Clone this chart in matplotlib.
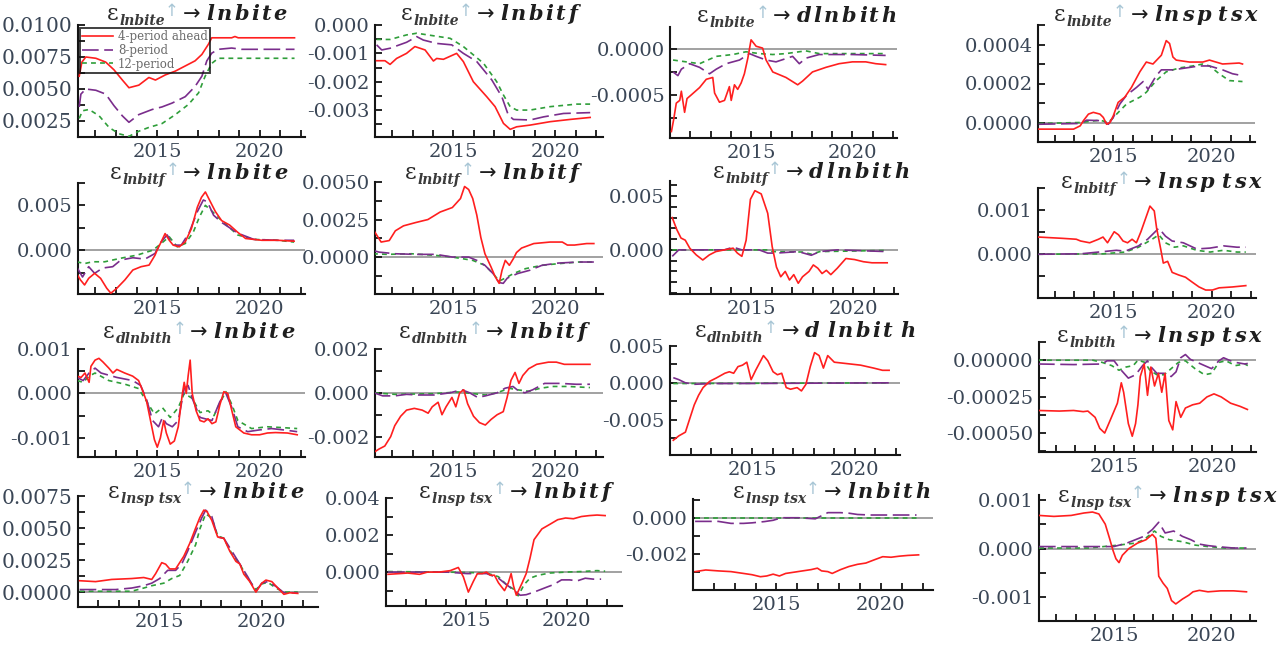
import matplotlib
matplotlib.use('Agg')
import matplotlib.pyplot as plt
from matplotlib.ticker import MultipleLocator, FuncFormatter
from matplotlib.transforms import IdentityTransform
from matplotlib.lines import Line2D

W, H, DPI = 1287, 648, 100
plt.rcParams['axes.unicode_minus'] = False
plt.rcParams['lines.scale_dashes'] = False
plt.rcParams['font.family'] = ['DejaVu Serif', 'DejaVu Sans']

# ---------------- data: (year, response) ----------------
# row 1: shock lnbite
p00_red = [(2011.21,0.0060),(2011.34,0.0071),(2011.53,0.0075),(2012.02,0.0074),(2012.5,0.0071),(2012.9,0.0065),(2013.31,0.0057),(2013.63,0.0051),(2014.11,0.0053),(2014.6,0.0059),(2014.92,0.0057),(2015.4,0.0061),(2015.89,0.0064),(2016.37,0.0068),(2016.85,0.0072),(2017.18,0.0077),(2017.5,0.0085),(2017.66,0.0090),(2018.63,0.0090),(2018.79,0.0091),(2018.95,0.0090),(2021.69,0.0090)]
p00_pur = [(2011.21,0.0036),(2011.29,0.0046),(2011.53,0.0050),(2012.02,0.0049),(2012.5,0.0046),(2012.9,0.0037),(2013.31,0.0029),(2013.63,0.0024),(2014.11,0.0030),(2014.76,0.0034),(2015.24,0.0036),(2015.73,0.0039),(2016.37,0.0044),(2016.85,0.0052),(2017.18,0.0060),(2017.42,0.0072),(2017.66,0.0078),(2017.98,0.0081),(2018.63,0.0082),(2019.11,0.0081),(2021.69,0.0081)]
p00_grn = [(2011.21,0.0027),(2011.37,0.0033),(2011.69,0.0034),(2012.18,0.0029),(2012.66,0.0020),(2013.15,0.0015),(2013.63,0.0013),(2014.11,0.0017),(2014.6,0.0020),(2015.24,0.0023),(2015.89,0.0030),(2016.53,0.0038),(2017.02,0.0047),(2017.34,0.0060),(2017.66,0.0070),(2017.98,0.0074),(2021.69,0.0074)]

p01_red = [(2011.23,-0.00126),(2011.64,-0.00126),(2011.89,-0.00139),(2012.21,-0.00118),(2012.7,-0.00100),(2013.11,-0.00076),(2013.61,-0.00088),(2014.02,-0.00127),(2014.18,-0.00118),(2014.51,-0.00121),(2015.16,-0.00100),(2015.49,-0.00129),(2015.98,-0.00200),(2016.64,-0.00253),(2017.05,-0.00288),(2017.46,-0.00347),(2017.79,-0.00368),(2018.11,-0.00359),(2018.77,-0.00353),(2019.75,-0.00341),(2020.74,-0.00333),(2021.72,-0.00326)]
p01_pur = [(2011.23,-0.0007),(2011.48,-0.00088),(2011.89,-0.00082),(2012.7,-0.00061),(2013.2,-0.00041),(2013.52,-0.00053),(2014.18,-0.00065),(2014.92,-0.0007),(2015.49,-0.0010),(2016.15,-0.00129),(2016.89,-0.00194),(2017.38,-0.00253),(2017.7,-0.00318),(2017.95,-0.00333),(2018.77,-0.00335),(2019.43,-0.00324),(2020.41,-0.00312),(2021.72,-0.00309)]
p01_grn = [(2011.23,-0.00051),(2011.89,-0.00051),(2012.7,-0.00035),(2013.2,-0.00029),(2014.84,-0.00047),(2015.49,-0.00076),(2016.48,-0.00135),(2017.13,-0.0020),(2017.46,-0.00247),(2017.79,-0.00288),(2018.11,-0.0030),(2018.77,-0.0030),(2019.75,-0.00288),(2021.07,-0.00279),(2021.72,-0.00279)]

p02_red = [(2011.07,-0.00090),(2011.18,-0.00077),(2011.31,-0.00059),(2011.48,-0.00056),(2011.56,-0.00046),(2011.72,-0.00069),(2011.84,-0.00054),(2012.05,-0.00050),(2012.46,-0.00042),(2012.79,-0.00033),(2013.11,-0.00031),(2013.2,-0.00048),(2013.44,-0.00058),(2013.69,-0.00056),(2013.93,-0.00041),(2014.02,-0.00056),(2014.18,-0.00039),(2014.34,-0.00044),(2014.51,-0.00037),(2014.67,-0.00027),(2014.84,-0.00010),(2015.0,0.00010),(2015.25,0.00003),(2015.57,0.00001),(2015.74,-0.00012),(2016.07,-0.00025),(2016.72,-0.00031),(2017.3,-0.00039),(2017.54,-0.00035),(2018.03,-0.00025),(2018.69,-0.00020),(2019.34,-0.00016),(2020.0,-0.00014),(2020.66,-0.00014),(2021.15,-0.00016),(2021.64,-0.00017)]
p02_pur = [(2011.15,-0.00025),(2011.39,-0.00029),(2011.56,-0.00022),(2011.97,-0.00016),(2012.46,-0.00020),(2012.95,-0.00027),(2013.28,-0.00022),(2013.77,-0.00016),(2014.43,-0.00012),(2014.92,-0.00005),(2015.25,-0.00008),(2015.74,-0.00012),(2016.23,-0.00014),(2017.05,-0.00008),(2017.38,-0.00016),(2017.7,-0.00010),(2018.36,-0.00006),(2020.0,-0.00006),(2021.64,-0.00007)]
p02_grn = [(2011.15,-0.00012),(2011.8,-0.00014),(2012.46,-0.00016),(2013.28,-0.00008),(2014.1,-0.00006),(2014.75,-0.00003),(2015.41,-0.00005),(2016.07,-0.00006),(2016.72,-0.00005),(2017.7,-0.00002),(2018.36,-0.00005),(2021.64,-0.00005)]

p03_red = [(2011.19,-0.000034),(2012.97,-0.000034),(2013.31,-0.000017),(2013.47,0.000009),(2013.73,0.000043),(2013.98,0.000052),(2014.32,0.000043),(2014.49,0.000026),(2014.66,-0.000009),(2014.83,0.0),(2015.0,0.000034),(2015.25,0.000103),(2015.59,0.00013),(2015.93,0.00018),(2016.36,0.00026),(2016.69,0.00031),(2017.03,0.00030),(2017.46,0.000345),(2017.71,0.00042),(2017.88,0.000405),(2018.05,0.000336),(2018.22,0.00032),(2018.9,0.00031),(2019.58,0.00031),(2019.92,0.00032),(2020.59,0.00030),(2021.44,0.000305),(2021.61,0.00030)]
p03_pur = [(2011.19,-0.000009),(2013.31,-0.000005),(2013.64,0.000012),(2014.49,0.000009),(2014.75,-0.000009),(2015.0,0.000026),(2015.34,0.000095),(2015.68,0.00014),(2016.19,0.00018),(2016.53,0.00021),(2016.78,0.00017),(2017.2,0.00024),(2017.46,0.00027),(2018.05,0.00027),(2018.73,0.00028),(2019.41,0.00029),(2019.92,0.00029),(2020.59,0.00027),(2021.1,0.00025),(2021.61,0.00024)]
p03_grn = [(2011.19,-0.000005),(2013.31,0.0),(2014.32,0.000012),(2014.75,0.0),(2015.17,0.000043),(2015.68,0.000095),(2016.36,0.00013),(2016.69,0.000155),(2017.2,0.000215),(2017.71,0.00026),(2018.39,0.00028),(2019.07,0.00029),(2019.58,0.00030),(2019.92,0.00029),(2020.42,0.00025),(2020.93,0.000215),(2021.61,0.00021)]

# row 2: shock lnbitf
p10_red = [(2011.08,-0.00259),(2011.27,-0.00333),(2011.47,-0.00389),(2011.67,-0.00315),(2011.96,-0.00259),(2012.25,-0.00315),(2012.55,-0.00426),(2012.75,-0.00481),(2013.04,-0.00426),(2013.43,-0.00333),(2013.82,-0.00222),(2014.22,-0.00185),(2014.61,-0.00167),(2014.9,-0.00056),(2015.0,0.0),(2015.2,0.00093),(2015.39,0.00185),(2015.59,0.00111),(2015.78,0.00056),(2016.08,0.00037),(2016.37,0.00093),(2016.67,0.0024),(2016.96,0.0048),(2017.16,0.0059),(2017.35,0.0065),(2017.55,0.0056),(2017.84,0.0043),(2018.14,0.0033),(2018.53,0.0028),(2018.92,0.0020),(2019.31,0.0013),(2020.1,0.0011),(2020.88,0.0011),(2021.67,0.0010)]
p10_pur = [(2011.08,-0.00185),(2011.37,-0.0030),(2011.67,-0.00185),(2011.96,-0.00259),(2012.35,-0.0020),(2012.84,-0.00185),(2013.24,-0.0011),(2013.82,-0.00085),(2014.41,-0.0010),(2014.9,-0.00037),(2015.2,0.00093),(2015.49,0.0017),(2015.78,0.00056),(2016.18,0.00056),(2016.57,0.0020),(2016.96,0.0043),(2017.25,0.0056),(2017.45,0.0054),(2017.75,0.0039),(2018.14,0.0031),(2018.92,0.0019),(2019.71,0.0012),(2020.88,0.0011),(2021.67,0.0011)]
p10_grn = [(2011.08,-0.0013),(2011.47,-0.0015),(2011.86,-0.0013),(2012.45,-0.0013),(2013.24,-0.0009),(2014.02,-0.00056),(2014.8,0.0),(2015.2,0.00074),(2015.59,0.0015),(2015.98,0.00037),(2016.37,0.00074),(2016.76,0.0020),(2017.06,0.0037),(2017.35,0.0050),(2017.65,0.0044),(2018.14,0.0033),(2018.92,0.0017),(2019.71,0.0012),(2020.88,0.0011),(2021.67,0.0009)]

p11_red = [(2011.05,0.00186),(2011.25,0.00143),(2011.45,0.0010),(2011.85,0.00110),(2012.15,0.00175),(2012.55,0.00208),(2013.15,0.0023),(2013.75,0.0025),(2014.35,0.0030),(2014.95,0.0033),(2015.35,0.0039),(2015.55,0.0047),(2015.75,0.0045),(2015.95,0.0039),(2016.15,0.0028),(2016.35,0.0013),(2016.55,0.00022),(2016.85,-0.00066),(2017.05,-0.0013),(2017.25,-0.00175),(2017.39,-0.00088),(2017.55,-0.00022),(2017.75,-0.00055),(2017.95,-0.0001),(2018.1,0.0003),(2018.35,0.0006),(2018.95,0.0009),(2019.75,0.0010),(2020.35,0.0010),(2020.6,0.0008),(2020.95,0.0008),(2021.55,0.0009),(2021.9,0.0009)]
p11_pur = [(2011.05,0.00044),(2011.35,0.00033),(2012.15,0.00022),(2013.15,0.00018),(2014.15,0.00018),(2014.95,0.0),(2015.75,0.0),(2016.15,-0.00022),(2016.55,-0.00055),(2016.95,-0.0011),(2017.25,-0.0017),(2017.45,-0.00175),(2017.65,-0.0014),(2018.15,-0.0011),(2018.75,-0.00088),(2019.35,-0.00055),(2020.15,-0.0004),(2021.15,-0.00033),(2021.9,-0.00033)]
p11_grn = [(2011.05,0.00022),(2011.75,0.00018),(2012.95,0.00022),(2014.15,0.00011),(2014.95,0.0),(2015.95,-0.00022),(2016.55,-0.00055),(2016.95,-0.0011),(2017.25,-0.0016),(2017.55,-0.0014),(2017.95,-0.0011),(2018.55,-0.00077),(2019.35,-0.00055),(2020.15,-0.00044),(2021.15,-0.00033),(2021.9,-0.00033)]

p12_red = [(2011.11,0.0030),(2011.33,0.0019),(2011.54,0.0011),(2011.75,0.0009),(2011.97,0.00016),(2012.29,-0.00047),(2012.61,-0.00094),(2012.93,-0.00047),(2013.25,-0.00016),(2013.67,0.0),(2014.1,0.00016),(2014.31,-0.0003),(2014.53,-0.0006),(2014.74,0.0009),(2014.95,0.0047),(2015.17,0.0055),(2015.48,0.0052),(2015.8,0.0034),(2016.02,0.0003),(2016.23,-0.0016),(2016.44,-0.0025),(2016.66,-0.0020),(2016.87,-0.0028),(2017.08,-0.0023),(2017.3,-0.0031),(2017.51,-0.0025),(2017.83,-0.0020),(2018.04,-0.0014),(2018.26,-0.0017),(2018.47,-0.0022),(2018.68,-0.0019),(2018.9,-0.0023),(2019.22,-0.0017),(2019.64,-0.0008),(2020.07,-0.0009),(2020.5,-0.0011),(2020.92,-0.0012),(2021.67,-0.0012)]
p12_pur = [(2011.11,-0.0006),(2011.43,0.0),(2013.67,0.0),(2014.1,0.00025),(2014.53,0.0),(2015.38,0.0),(2015.8,-0.0003),(2016.23,-0.0003),(2017.3,-0.00016),(2017.94,-0.0005),(2018.36,-0.00016),(2019.22,0.0),(2021.67,-0.00016)]
p12_grn = [(2011.11,0.0),(2015.8,0.0),(2016.0,-0.00016),(2017.5,-0.0002),(2017.94,-0.0004),(2018.36,-0.00016),(2021.67,-0.00005)]

p13_red = [(2011.16,0.00039),(2012.41,0.00036),(2013.1,0.00034),(2013.32,0.0003),(2013.78,0.00026),(2014.23,0.00034),(2014.46,0.00039),(2014.69,0.00026),(2015.03,0.00051),(2015.25,0.00044),(2015.48,0.0003),(2015.71,0.00026),(2015.94,0.00034),(2016.16,0.00026),(2016.39,0.00051),(2016.62,0.0008),(2016.85,0.00109),(2017.07,0.00098),(2017.19,0.00059),(2017.41,0.00009),(2017.53,-0.0002),(2017.75,-0.00016),(2017.98,-0.00041),(2018.32,-0.00047),(2018.66,-0.00052),(2019.0,-0.00063),(2019.35,-0.00074),(2019.69,-0.00081),(2020.03,-0.00081),(2020.37,-0.00076),(2021.05,-0.00074),(2021.73,-0.00071)]
p13_pur = [(2011.16,0.0),(2013.32,0.00001),(2014.23,0.00005),(2015.14,0.00009),(2015.59,0.00007),(2016.27,0.00019),(2016.73,0.00034),(2017.3,0.00059),(2017.64,0.00041),(2017.98,0.0003),(2018.55,0.00026),(2019.23,0.00012),(2019.91,0.00014),(2020.6,0.00019),(2021.28,0.00016),(2021.73,0.00016)]
p13_grn = [(2011.16,0.0),(2014.46,0.00001),(2015.59,0.00005),(2016.27,0.00016),(2016.96,0.00034),(2017.3,0.00044),(2017.64,0.00026),(2018.1,0.00016),(2018.55,0.00019),(2019.23,0.00009),(2019.91,0.00005),(2020.6,0.00009),(2021.28,0.00005),(2021.73,0.00005)]

# row 3: shock dlnbith (last panel: lnbith)
p20_red = [(2011.11,0.00039),(2011.3,0.00036),(2011.49,0.00046),(2011.69,0.00025),(2011.78,0.00061),(2011.98,0.00075),(2012.17,0.00079),(2012.36,0.00071),(2012.65,0.00057),(2012.85,0.00046),(2013.04,0.00054),(2013.42,0.00046),(2013.81,0.00039),(2014.1,0.00029),(2014.29,0.00007),(2014.49,-0.00018),(2014.68,-0.00061),(2014.87,-0.00104),(2015.01,-0.00121),(2015.16,-0.00100),(2015.32,-0.00061),(2015.45,-0.00089),(2015.64,-0.00114),(2015.84,-0.00107),(2016.03,-0.00075),(2016.22,-0.00004),(2016.32,0.00025),(2016.42,0.0),(2016.51,0.00039),(2016.61,0.00075),(2016.71,0.0),(2016.9,-0.00039),(2017.09,-0.00061),(2017.29,-0.00064),(2017.48,-0.00057),(2017.67,-0.00068),(2017.86,-0.00064),(2018.06,-0.00025),(2018.25,0.00004),(2018.44,0.0),(2018.64,-0.00039),(2018.83,-0.00075),(2019.22,-0.00089),(2019.6,-0.00093),(2019.99,-0.00093),(2020.37,-0.00089),(2020.76,-0.00088),(2021.34,-0.00089),(2021.82,-0.00093)]
p20_pur = [(2011.11,0.00036),(2011.4,0.00029),(2011.69,0.00046),(2011.98,0.00057),(2012.27,0.00046),(2013.04,0.00036),(2013.81,0.00029),(2014.2,0.00018),(2014.49,-0.00014),(2014.78,-0.00061),(2015.07,-0.00075),(2015.26,-0.00054),(2015.45,-0.00068),(2015.74,-0.00075),(2016.03,-0.00061),(2016.32,0.00011),(2016.51,0.00018),(2016.71,-0.00011),(2017.09,-0.00054),(2017.67,-0.00061),(2018.06,-0.00018),(2018.35,0.0),(2018.64,-0.00032),(2018.93,-0.00075),(2019.41,-0.00086),(2019.99,-0.00082),(2020.57,-0.00079),(2021.15,-0.00082),(2021.82,-0.00086)]
p20_grn = [(2011.11,0.00029),(2011.4,0.00025),(2011.69,0.00039),(2011.98,0.00046),(2012.65,0.00029),(2013.42,0.00021),(2014.1,0.00011),(2014.49,-0.00018),(2014.87,-0.00046),(2015.26,-0.00032),(2015.64,-0.00054),(2016.03,-0.00032),(2016.32,0.0),(2016.71,-0.00011),(2017.09,-0.00043),(2017.48,-0.00039),(2017.77,-0.0005),(2018.06,-0.00021),(2018.35,0.00004),(2018.64,-0.00025),(2018.93,-0.00061),(2019.6,-0.00079),(2020.37,-0.00075),(2021.15,-0.00077),(2021.82,-0.00079)]

p21_red = [(2011.11,-0.00271),(2011.34,-0.00257),(2011.63,-0.00243),(2011.92,-0.0020),(2012.12,-0.0015),(2012.41,-0.00107),(2012.7,-0.00079),(2013.08,-0.00071),(2013.47,-0.00079),(2013.76,-0.00093),(2013.96,-0.00064),(2014.25,-0.00043),(2014.44,-0.0010),(2014.64,-0.00064),(2014.93,-0.00021),(2015.12,-0.00064),(2015.31,0.0),(2015.51,0.00014),(2015.7,-0.0005),(2015.99,-0.00107),(2016.28,-0.00136),(2016.57,-0.00147),(2016.86,-0.00121),(2017.15,-0.0010),(2017.45,-0.00086),(2017.64,-0.00021),(2017.83,0.00057),(2018.03,0.00093),(2018.22,0.00043),(2018.41,0.00079),(2018.7,0.0011),(2019.09,0.0013),(2019.67,0.0014),(2020.06,0.0014),(2020.45,0.0013),(2021.22,0.0013),(2021.71,0.0013)]
p21_pur = [(2011.11,0.0),(2011.53,-0.00014),(2012.12,-0.00014),(2012.7,-0.00007),(2013.28,-0.0001),(2014.05,-0.0001),(2014.83,0.0),(2015.41,0.00014),(2015.8,0.0),(2016.19,-0.00021),(2016.57,-0.00014),(2017.15,0.0),(2017.54,0.00021),(2017.93,0.00029),(2018.22,0.00007),(2018.51,0.0),(2018.9,0.00014),(2019.48,0.00043),(2020.26,0.00043),(2021.03,0.00039),(2021.71,0.00039)]
p21_grn = [(2011.11,0.0),(2012.12,-0.00007),(2014.05,-0.00004),(2015.22,0.00004),(2016.0,-0.00004),(2016.57,-0.0001),(2017.15,0.0),(2017.74,0.00021),(2018.12,0.00014),(2018.7,0.00007),(2019.29,0.00021),(2019.87,0.00029),(2020.64,0.00029),(2021.71,0.00024)]

p22_red = [(2011.16,-0.0078),(2011.43,-0.0072),(2011.75,-0.0067),(2011.97,-0.0048),(2012.18,-0.0030),(2012.39,-0.0017),(2012.61,-0.00065),(2012.93,0.0002),(2013.25,0.00065),(2013.67,0.0013),(2013.89,0.0015),(2014.1,0.0013),(2014.31,0.0022),(2014.53,0.0024),(2014.74,0.0028),(2014.95,0.00043),(2015.17,0.0017),(2015.38,0.0028),(2015.55,0.0037),(2015.76,0.0030),(2016.02,0.0015),(2016.23,0.0011),(2016.44,0.0013),(2016.66,-0.00065),(2016.87,-0.00087),(2017.19,-0.00065),(2017.4,-0.0011),(2017.62,-0.0002),(2017.83,0.0022),(2018.04,0.0041),(2018.26,0.0037),(2018.47,0.0020),(2018.68,0.0037),(2019.0,0.0028),(2019.64,0.0026),(2020.28,0.0024),(2020.92,0.0020),(2021.35,0.0017),(2021.67,0.0017)]
p22_pur = [(2011.16,0.0007),(2011.43,0.00043),(2011.75,0.0),(2012.18,-0.0002),(2013.0,-0.0001),(2014.1,-0.0001),(2021.67,0.0)]
p22_grn = [(2011.16,-0.0001),(2021.67,0.0)]

p23_red = [(2011.1,-0.000345),(2012.19,-0.000349),(2012.92,-0.000345),(2013.41,-0.000353),(2013.65,-0.000349),(2014.02,-0.000392),(2014.26,-0.000468),(2014.51,-0.0005),(2014.75,-0.000425),(2014.99,-0.000349),(2015.16,-0.000295),(2015.36,-0.000155),(2015.48,-0.00022),(2015.72,-0.000435),(2015.92,-0.000522),(2016.09,-0.000435),(2016.21,-0.000306),(2016.33,-0.000112),(2016.53,-0.000026),(2016.7,-0.000241),(2016.87,-0.000047),(2017.06,-0.000177),(2017.26,-0.00009),(2017.43,-0.00022),(2017.6,-0.00009),(2017.79,-0.000414),(2017.99,-0.000478),(2018.16,-0.000284),(2018.4,-0.000392),(2018.64,-0.000328),(2019.01,-0.000306),(2019.37,-0.000295),(2019.74,-0.000252),(2020.1,-0.000231),(2020.47,-0.000252),(2020.95,-0.000295),(2021.44,-0.000317),(2021.81,-0.000338)]
p23_pur = [(2011.1,-0.000026),(2012.92,-0.00003),(2014.38,-0.000026),(2014.63,-0.000004),(2014.99,-0.000004),(2015.36,-0.000069),(2015.72,-0.000123),(2016.09,-0.0001),(2016.45,-0.000037),(2016.7,-0.000004),(2016.82,-0.000037),(2017.18,-0.00009),(2017.55,-0.00009),(2017.91,-0.000112),(2018.16,-0.00008),(2018.4,0.000017),(2018.64,0.000039),(2018.89,0.000006),(2019.25,-0.000015),(2019.62,-0.000037),(2019.98,-0.000058),(2020.35,-0.000004),(2020.59,0.000017),(2020.95,-0.000004),(2021.2,-0.000015),(2021.68,-0.000026),(2021.83,-0.000022)]
p23_grn = [(2011.1,0.0),(2013.9,0.0),(2014.38,-0.000015),(2014.87,-0.000037),(2015.24,-0.000069),(2015.6,-0.000047),(2015.97,-0.000037),(2016.21,0.0),(2016.57,-0.000015),(2016.82,-0.000069),(2017.18,-0.0001),(2017.55,-0.0001),(2017.91,-0.000058),(2018.28,-0.000015),(2018.64,-0.000004),(2019.13,-0.000058),(2019.62,-0.0001),(2019.98,-0.00009),(2020.35,-0.000015),(2020.71,-0.000004),(2021.2,-0.000037),(2021.68,-0.000026),(2021.83,-0.000037)]

# row 4: shock lnsptsx
p30_red = [(2011.08,0.00089),(2011.86,0.00082),(2012.65,0.00099),(2013.63,0.00106),(2014.22,0.00114),(2014.61,0.00099),(2014.8,0.00144),(2015.1,0.0023),(2015.29,0.00218),(2015.49,0.00181),(2015.78,0.00181),(2016.18,0.0028),(2016.47,0.0038),(2016.76,0.0050),(2016.96,0.0058),(2017.16,0.0064),(2017.31,0.0063),(2017.55,0.0056),(2017.84,0.0043),(2018.14,0.0042),(2018.43,0.0032),(2018.73,0.0024),(2018.92,0.0022),(2019.12,0.0014),(2019.41,0.00082),(2019.71,0.0),(2020.0,0.0007),(2020.2,0.00094),(2020.49,0.00082),(2020.78,0.00032),(2021.08,-0.00017),(2021.37,-0.00005),(2021.76,-0.0001)]
p30_pur = [(2011.08,0.0002),(2012.84,0.0002),(2013.63,0.00032),(2014.22,0.0005),(2014.61,0.0007),(2015.0,0.00106),(2015.39,0.0017),(2015.78,0.0017),(2016.08,0.0022),(2016.37,0.0032),(2016.76,0.0047),(2017.06,0.0058),(2017.25,0.0064),(2017.55,0.0059),(2017.84,0.0043),(2018.14,0.0042),(2018.53,0.0032),(2018.92,0.0022),(2019.31,0.0012),(2019.71,0.00007),(2020.0,0.0007),(2020.29,0.00082),(2020.69,0.00045),(2021.08,-0.00005),(2021.76,-0.00005)]
p30_grn = [(2011.08,0.00007),(2013.63,0.00007),(2014.22,0.00032),(2014.61,0.0005),(2015.2,0.0007),(2015.59,0.00106),(2015.98,0.0013),(2016.37,0.0024),(2016.76,0.0037),(2016.96,0.0049),(2017.25,0.0061),(2017.55,0.0058),(2017.84,0.0044),(2018.14,0.0042),(2018.53,0.0030),(2018.92,0.0022),(2019.31,0.00106),(2019.71,0.0002),(2020.0,0.00064),(2020.29,0.00077),(2020.69,0.00032),(2021.08,0.0),(2021.76,0.0)]

p31_red = [(2011.1,-0.00012),(2011.69,-0.00008),(2012.08,-0.00005),(2012.67,-0.00012),(2013.06,0.0),(2013.65,0.0),(2014.2,0.00008),(2014.6,0.00025),(2014.85,-0.00025),(2015.1,-0.00108),(2015.35,-0.0005),(2015.55,-0.00008),(2015.8,-0.00008),(2016.0,0.0),(2016.2,-0.00017),(2016.4,-0.00017),(2016.6,-0.00058),(2016.9,-0.0010),(2017.09,-0.00058),(2017.23,-0.00008),(2017.35,-0.00075),(2017.49,-0.00125),(2017.78,-0.00058),(2017.98,-0.00008),(2018.17,0.00075),(2018.37,0.00175),(2018.76,0.00233),(2019.16,0.00258),(2019.55,0.00283),(2019.94,0.00292),(2020.33,0.00288),(2020.73,0.0030),(2021.12,0.00305),(2021.51,0.00308),(2021.91,0.00305)]
p31_pur = [(2011.1,0.0),(2014.05,0.0),(2015.03,-0.00008),(2016.01,-0.00008),(2016.6,-0.00033),(2016.99,-0.00067),(2017.39,-0.0010),(2017.68,-0.00125),(2017.98,-0.00122),(2018.37,-0.00108),(2018.96,-0.00083),(2019.35,-0.00067),(2019.74,-0.00042),(2020.14,-0.00042),(2020.53,-0.00047),(2020.92,-0.00033),(2021.32,-0.00038),(2021.71,-0.00038)]
p31_grn = [(2011.1,0.00003),(2014.05,0.0),(2016.01,-0.00005),(2016.6,-0.00025),(2016.99,-0.00067),(2017.35,-0.00092),(2017.58,-0.00128),(2017.88,-0.00067),(2018.17,-0.00033),(2018.57,-0.00017),(2019.16,-0.00005),(2019.94,0.0),(2020.73,0.00003),(2021.51,0.00008),(2021.91,0.00005)]

p32_red = [(2011.1,-0.00296),(2011.61,-0.00287),(2012.21,-0.00292),(2012.82,-0.00296),(2013.42,-0.00306),(2013.83,-0.00313),(2014.23,-0.00324),(2014.53,-0.0032),(2014.84,-0.0031),(2015.14,-0.0032),(2015.44,-0.00306),(2015.85,-0.00299),(2016.25,-0.00292),(2016.66,-0.00285),(2016.96,-0.00277),(2017.16,-0.00292),(2017.46,-0.00296),(2017.67,-0.00306),(2018.07,-0.00285),(2018.47,-0.00268),(2018.88,-0.00256),(2019.28,-0.00249),(2019.69,-0.00231),(2020.09,-0.00214),(2020.49,-0.00217),(2020.9,-0.00211),(2021.3,-0.00207),(2021.81,-0.00204)]
p32_pur = [(2011.1,-0.0002),(2012.21,-0.0002),(2012.82,-0.00031),(2013.42,-0.00031),(2013.83,-0.00028),(2014.43,-0.00021),(2014.84,-0.00014),(2015.24,0.0),(2016.05,0.0),(2016.86,-0.00006),(2017.16,0.00011),(2017.46,0.00028),(2018.07,0.00028),(2018.47,0.00025),(2018.88,0.00018),(2019.48,0.00015),(2021.71,0.00015)]
p32_grn = [(2011.1,0.0),(2021.81,0.0)]

p33_red = [(2011.1,0.00068),(2011.87,0.00066),(2012.76,0.00068),(2013.42,0.00073),(2013.86,0.00075),(2014.19,0.00071),(2014.52,0.0005),(2014.74,0.00021),(2014.92,-0.00004),(2015.07,-0.00021),(2015.23,-0.00029),(2015.4,-0.00014),(2015.74,0.0),(2016.18,0.00011),(2016.62,0.00018),(2016.95,0.00029),(2017.13,0.00021),(2017.21,-0.00014),(2017.28,-0.00057),(2017.5,-0.00071),(2017.72,-0.00082),(2017.94,-0.00107),(2018.16,-0.00114),(2018.5,-0.00104),(2018.83,-0.00096),(2019.05,-0.00089),(2019.38,-0.00086),(2019.82,-0.00089),(2020.48,-0.00087),(2021.14,-0.00087),(2021.81,-0.00089)]
p33_pur = [(2011.1,0.00004),(2013.64,0.00004),(2014.96,0.00004),(2015.63,0.00011),(2016.07,0.00018),(2016.51,0.00025),(2016.95,0.00039),(2017.28,0.00054),(2017.61,0.00032),(2018.05,0.00036),(2018.5,0.00025),(2018.94,0.00018),(2019.38,0.00009),(2019.82,0.00006),(2020.26,0.00004),(2021.14,0.00001),(2021.81,0.00001)]
p33_grn = [(2011.1,0.00001),(2013.64,0.00001),(2014.96,0.00006),(2015.63,0.00009),(2016.07,0.00011),(2016.51,0.00018),(2017.06,0.00036),(2017.39,0.00025),(2017.83,0.00018),(2018.5,0.00014),(2019.16,0.00007),(2019.82,0.00004),(2020.7,0.00001),(2021.81,0.00001)]

legend_labels = ['4-period ahead', '8-period', '12-period']

# ---------------- styles ----------------
RED, PUR, GRN = '#ff1f1f', '#7a2d8c', '#2f9e3a'
TICKC, LABC = '#151515', '#3a4656'

fig = plt.figure(figsize=(W / DPI, H / DPI), dpi=DPI)
fig.patch.set_facecolor('white')

# panel: series, (left, top, right, bottom) px, xlim, ylim, major, minor, decimals,
#        zero line, (shock, response), title centre px, tick label size
panels = [
    ((p00_red, p00_pur, p00_grn), (78, 25, 305, 137), (2011.15, 2022.2), (0.00125, 0.0100), 0.0025, 0.00125, 4, False, ('lnbite', 'lnbite'), (198, 13), 14.5),
    ((p01_red, p01_pur, p01_grn), (375, 25, 603, 137), (2011.15, 2022.35), (-0.00395, 0.0), 0.001, 0.0005, 3, False, ('lnbite', 'lnbitf'), (490, 13), 14),
    ((p02_red, p02_pur, p02_grn), (670, 27, 897, 138), (2011.0, 2022.2), (-0.00097, 0.00024), 0.0005, 0.00025, 4, True, ('lnbite', 'dlnbith'), (798, 15), 14),
    ((p03_red, p03_pur, p03_grn), (1038, 25, 1255, 142), (2011.15, 2022.25), (-0.0001, 0.0005), 0.0002, 0.0001, 4, True, ('lnbite', 'lnsp tsx'), (1157, 14), 14),
    ((p10_red, p10_pur, p10_grn), (78, 183, 305, 294), (2011.15, 2022.2), (-0.0049, 0.0075), 0.005, 0.0025, 3, True, ('lnbitf', 'lnbite'), (200, 172), 14),
    ((p11_red, p11_pur, p11_grn), (375, 182, 603, 294), (2011.15, 2022.35), (-0.00246, 0.0050), 0.0025, 0.00125, 4, True, ('lnbitf', 'lnbitf'), (493, 172), 14),
    ((p12_red, p12_pur, p12_grn), (670, 181, 898, 294), (2011.0, 2022.2), (-0.0041, 0.0064), 0.005, 0.001, 3, True, ('lnbitf', 'dlnbith'), (812, 171), 14),
    ((p13_red, p13_pur, p13_grn), (1038, 188, 1256, 298), (2011.15, 2022.25), (-0.00099, 0.0015), 0.001, 0.0005, 3, True, ('lnbitf', 'lnsp tsx'), (1162, 181), 14),
    ((p20_red, p20_pur, p20_grn), (78, 349, 305, 457), (2011.15, 2022.2), (-0.00143, 0.001), 0.001, 0.0005, 3, True, ('dlnbith', 'lnbite'), (200, 331), 14),
    ((p21_red, p21_pur, p21_grn), (375, 349, 603, 457), (2011.15, 2022.35), (-0.00293, 0.002), 0.002, 0.001, 3, True, ('dlnbith', 'lnbitf'), (494, 331), 14),
    ((p22_red, p22_pur, p22_grn), (670, 346, 900, 455), (2011.0, 2022.2), (-0.0098, 0.005), 0.005, 0.0025, 3, True, ('dlnbith', 'd lnbit h'), (806, 330), 14),
    ((p23_red, p23_pur, p23_grn), (1039, 342, 1256, 452), (2011.15, 2022.25), (-0.00063, 0.000125), 0.00025, 0.000125, 5, True, ('lnbith', 'lnsp tsx'), (1160, 335), 14),
    ((p30_red, p30_pur, p30_grn), (78, 496, 318, 607), (2011.0, 2022.75), (-0.00116, 0.0075), 0.0025, 0.00125, 4, True, ('lnsp tsx', 'lnbite'), (207, 491), 14.5),
    ((p31_red, p31_pur, p31_grn), (386, 498, 622, 606), (2011.0, 2022.75), (-0.00183, 0.004), 0.002, 0.001, 3, True, ('lnsp tsx', 'lnbitf'), (516, 491), 14),
    ((p32_red, p32_pur, p32_grn), (693, 499, 933, 590), (2011.0, 2022.5), (-0.00397, 0.00103), 0.002, 0.001, 3, True, ('lnsp tsx', 'lnbith'), (833, 491), 14),
    ((p33_red, p33_pur, p33_grn), (1039, 495, 1256, 621), (2011.1, 2022.3), (-0.00149, 0.0011), 0.001, 0.0005, 3, True, ('lnsp tsx', 'lnsp tsx'), (1168, 495), 14),
]


def make_fmt(dec):
    def f(v, pos):
        if abs(v) < 1e-12:
            v = 0.0
        return f'{v:.{dec}f}'
    return FuncFormatter(f)


for series, (l, t, r, b), xl, yl, maj, mnr, dec, zero, title, tpos, lsize in panels:
    ax = fig.add_axes([l / W, 1 - b / H, (r - l) / W, (b - t) / H])
    ax.set_facecolor('none')
    for s in ('top', 'right'):
        ax.spines[s].set_visible(False)
    for s in ('left', 'bottom'):
        ax.spines[s].set_linewidth(1.5)
        ax.spines[s].set_color(TICKC)
    if zero:
        ax.axhline(0, color='#9a9a9a', lw=1.3, zorder=1)
    red, pur, grn = series
    ax.plot([p[0] for p in grn], [p[1] for p in grn], color=GRN, lw=1.2, dashes=(3.5, 3), zorder=3)
    ax.plot([p[0] for p in pur], [p[1] for p in pur], color=PUR, lw=1.2, dashes=(12, 4), zorder=3)
    ax.plot([p[0] for p in red], [p[1] for p in red], color=RED, lw=1.2, zorder=4)
    ax.set_xlim(*xl)
    ax.set_ylim(*yl)
    ax.xaxis.set_major_locator(MultipleLocator(5))
    ax.xaxis.set_minor_locator(MultipleLocator(1))
    ax.yaxis.set_major_locator(MultipleLocator(maj))
    ax.yaxis.set_minor_locator(MultipleLocator(mnr))
    ax.yaxis.set_major_formatter(make_fmt(dec))
    ax.xaxis.set_major_formatter(FuncFormatter(lambda v, p: f'{int(round(v))}'))
    ax.tick_params(axis='both', which='both', direction='in', length=5, width=1.3,
                   color=TICKC, labelcolor=LABC)
    ax.tick_params(axis='y', pad=4, labelsize=lsize)
    ax.tick_params(axis='x', pad=4, labelsize=14)

# legend in the first panel
handles = [Line2D([], [], color=RED, lw=1.2),
           Line2D([], [], color=PUR, lw=1.2, dashes=(12, 4)),
           Line2D([], [], color=GRN, lw=1.2, dashes=(3.5, 3))]
leg = fig.legend(handles, legend_labels, loc='upper left',
                 bbox_to_anchor=(80 / W, 1 - 28 / H), bbox_transform=fig.transFigure,
                 frameon=True, fancybox=False, edgecolor='#111111', facecolor='none',
                 fontsize=8.5, labelspacing=0.05, handlelength=2.6, handletextpad=0.4,
                 borderpad=0.2, borderaxespad=0.0)
leg.get_frame().set_linewidth(1.4)
for txt in leg.get_texts():
    txt.set_color('#6a6a6a')

# rich titles: eps_{shock} (up arrow) -> response
renderer = fig.canvas.get_renderer()


def rich_title(cx, cy, sub, target):
    base = H - (cy + 7)
    pieces = [
        ('\u03b5', dict(fontsize=16, family='DejaVu Serif', color='#2a2a2a'), 0, 1),
        (sub, dict(fontsize=10, family='DejaVu Serif', style='italic', weight='bold', color='#3a3a3a'), -5, 0),
        ('\u2191', dict(fontsize=12, family='DejaVu Sans', color='#a9c7d6'), 4, 4),
        ('\u2192', dict(fontsize=15, family='DejaVu Sans', color='#1e1e1e'), 0, 6),
    ]
    for ch in target:
        if ch == ' ':
            pieces.append((None, None, 0, 5))
        else:
            pieces.append((ch, dict(fontsize=15, family='DejaVu Serif', style='italic', weight='bold', color='#1e1e1e'), 0, 2.5))
    objs = []
    total = 0.0
    for s, kw, dy, gap in pieces:
        if s is None:
            objs.append((None, 0.0, dy, gap))
            total += gap
            continue
        tx = fig.text(0, base + dy, s, transform=IdentityTransform(), ha='left', va='baseline', **kw)
        w = tx.get_window_extent(renderer).width
        objs.append((tx, w, dy, gap))
        total += w + gap
    x = cx - total / 2
    for tx, w, dy, gap in objs:
        if tx is not None:
            tx.set_x(x)
        x += w + gap


for p in panels:
    sub, target = p[8]
    cx, cy = p[9]
    rich_title(cx, cy, sub, target)

fig.savefig('out.png', dpi=DPI, facecolor='white')
